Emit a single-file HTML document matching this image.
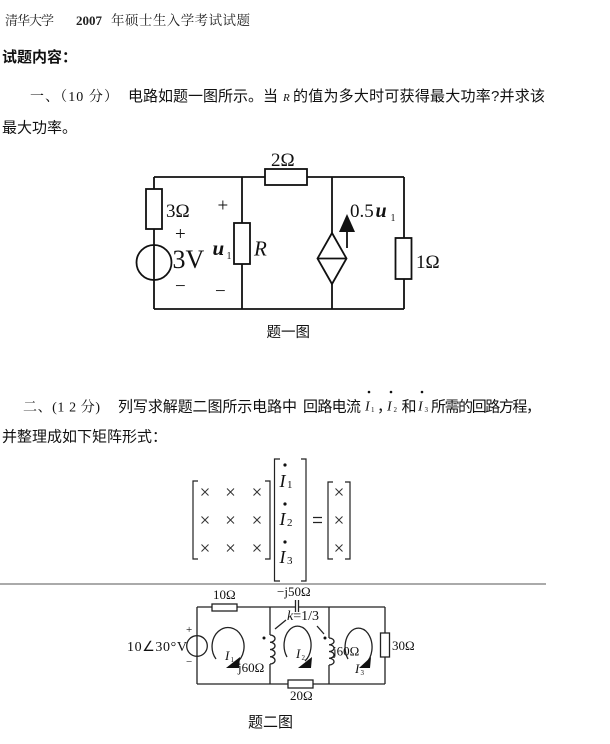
<!DOCTYPE html>
<html><head><meta charset="utf-8"><style>
html,body{margin:0;padding:0;background:#fff;}
svg{display:block;}
.s{font-family:"Liberation Sans","Noto Sans CJK SC",sans-serif;}
.sf{font-family:"Liberation Serif","Noto Serif CJK SC",serif;}
.t{font-family:"Liberation Serif",serif;}
</style></head><body>
<svg width="610" height="744" viewBox="0 0 610 744" xmlns="http://www.w3.org/2000/svg">
<rect x="0" y="0" width="610" height="744" fill="#fff"/>

<!-- Header -->
<text class="sf" x="5" y="25" font-size="13" textLength="49" fill="#222">清华大学</text>
<text class="t" x="76" y="25" font-size="13" font-weight="bold" fill="#222">2007</text>
<text class="sf" x="111" y="25" font-size="13.5" textLength="139" fill="#222">年硕士生入学考试试题</text>

<text class="s" x="2" y="62" font-size="15" font-weight="bold" fill="#111">试题内容：</text>

<!-- Question 1 -->
<text class="sf" x="30" y="101" font-size="14" textLength="88" fill="#111">一、（10 分）</text>
<text class="s" x="128" y="101" font-size="15" textLength="150" fill="#111">电路如题一图所示。当</text>
<text class="t" x="283" y="101" font-size="11" font-style="italic" fill="#111">R</text>
<text class="s" x="293" y="101" font-size="15" textLength="252" fill="#111">的值为多大时可获得最大功率?并求该</text>
<text class="s" x="2" y="132.5" font-size="15" fill="#111">最大功率。</text>

<!-- Circuit 1 -->
<g stroke="#111" stroke-width="1.8" fill="none">
  <path d="M154 177 H404 M154 309 H404 M154 177 V309 M242 177 V309 M332 177 V233 M332 284 V309 M404 177 V309"/>
  <rect x="265" y="169" width="42" height="16" fill="#fff"/>
  <rect x="146" y="189" width="16" height="40" fill="#fff"/>
  <circle cx="154" cy="262.5" r="17.5"/>
  <rect x="234" y="223" width="16" height="41" fill="#fff"/>
  <path d="M332 233 L346.5 258.5 L332 284 L317.5 258.5 Z" fill="#fff"/>
  <path d="M317.5 258.5 H346.5"/>
  <rect x="395.5" y="238" width="16" height="41" fill="#fff"/>
  <path d="M347 248 V230"/>
</g>
<polygon points="339,232 355,232 347,214" fill="#111"/>
<g class="t" fill="#111">
  <text x="271" y="166" font-size="19">2Ω</text>
  <text x="166" y="217" font-size="19">3Ω</text>
  <text x="175" y="240" font-size="19">+</text>
  <text x="172.5" y="268" font-size="26">3V</text>
  <text x="175" y="292" font-size="19">−</text>
  <text x="217.5" y="211.5" font-size="19">+</text>
  <text x="215" y="297" font-size="19">−</text>
  <text x="212.5" y="255" font-size="21" font-style="italic" font-weight="bold">u</text>
  <text x="226.5" y="259" font-size="10">1</text>
  <text x="254" y="255.5" font-size="21" font-style="italic">R</text>
  <text x="350" y="217" font-size="19">0.5</text>
  <text x="375.5" y="217" font-size="20" font-style="italic" font-weight="bold">u</text>
  <text x="390.5" y="221" font-size="10">1</text>
  <text x="416" y="268" font-size="19">1Ω</text>
</g>
<text class="s" x="266.5" y="337" font-size="14.5" fill="#111">题一图</text>

<!-- Question 2 -->
<text class="sf" x="23" y="411.5" font-size="14" textLength="77" fill="#111">二、(1 2 分)</text>
<text class="s" x="118" y="411.5" font-size="15" textLength="179" fill="#111">列写求解题二图所示电路中</text>
<text class="s" x="303" y="411.5" font-size="15" textLength="58" fill="#111">回路电流</text>
<g class="t" fill="#111">
  <text x="365" y="410.5" font-size="14" font-style="italic">I</text>
  <text x="371" y="412" font-size="7">1</text>
  <text x="387" y="410.5" font-size="14" font-style="italic">I</text>
  <text x="393.5" y="412" font-size="7">2</text>
  <text x="418" y="410.5" font-size="14" font-style="italic">I</text>
  <text x="424.5" y="412" font-size="7">3</text>
  <circle cx="369" cy="392" r="1.3"/>
  <circle cx="391" cy="392" r="1.3"/>
  <circle cx="422" cy="392" r="1.3"/>
</g>
<text class="s" x="377" y="411.5" font-size="15" fill="#111">，</text>
<text class="s" x="401.5" y="411.5" font-size="15" fill="#111">和</text>
<text class="s" x="431" y="411.5" font-size="15" textLength="110" fill="#111">所需的回路方程，</text>
<text class="s" x="2" y="441.5" font-size="15" fill="#111">并整理成如下矩阵形式：</text>

<!-- Matrix -->
<g stroke="#222" stroke-width="1.2" fill="none">
  <path d="M198 481 H193 V559 H198"/>
  <path d="M265 481 H270 V559 H265"/>
  <path d="M280 459 H274.5 V581 H280"/>
  <path d="M301 459 H306 V581 H301"/>
  <path d="M333 482 H328 V559 H333"/>
  <path d="M345 482 H350 V559 H345"/>
  <path d="M313 517.5 H322 M313 522.5 H322"/>
</g>
<g stroke="#333" stroke-width="1">
  <path d="M201.5 488.5 l7 7 m0 -7 l-7 7 M227 488.5 l7 7 m0 -7 l-7 7 M253.5 488.5 l7 7 m0 -7 l-7 7"/>
  <path d="M201.5 516.5 l7 7 m0 -7 l-7 7 M227 516.5 l7 7 m0 -7 l-7 7 M253.5 516.5 l7 7 m0 -7 l-7 7"/>
  <path d="M201.5 544.5 l7 7 m0 -7 l-7 7 M227 544.5 l7 7 m0 -7 l-7 7 M253.5 544.5 l7 7 m0 -7 l-7 7"/>
  <path d="M335.5 488.5 l7 7 m0 -7 l-7 7 M335.5 516.5 l7 7 m0 -7 l-7 7 M335.5 544.5 l7 7 m0 -7 l-7 7"/>
</g>
<g class="t" fill="#111">
  <text x="279.5" y="487" font-size="18" font-style="italic">I</text>
  <text x="287" y="488" font-size="11">1</text>
  <circle cx="285" cy="465" r="1.6"/>
  <text x="279.5" y="525" font-size="18" font-style="italic">I</text>
  <text x="287" y="526" font-size="11">2</text>
  <circle cx="285" cy="504" r="1.6"/>
  <text x="279.5" y="563" font-size="18" font-style="italic">I</text>
  <text x="287" y="564" font-size="11">3</text>
  <circle cx="285" cy="542" r="1.6"/>
</g>

<!-- separator -->
<path d="M0 584 H546" stroke="#555" stroke-width="1"/>

<!-- Circuit 2 -->
<g stroke="#222" stroke-width="1.3" fill="none">
  <path d="M197 607 H295.5 M298.5 607 H385 M197 684 H385 M197 607 V684 M385 607 V684 M270 607 V635 M270 664 V684 M329 607 V638 M329 665 V684"/>
  <path d="M295.5 600 V612 M298.5 600 V612"/>
  <rect x="212" y="604" width="25" height="7" fill="#fff"/>
  <circle cx="197" cy="646" r="10.3"/>
  <rect x="380.5" y="633" width="9" height="24" fill="#fff"/>
  <rect x="288" y="680" width="25" height="8" fill="#fff"/>
  <path d="M270 635 a5 3.625 0 0 1 0 7.25 a5 3.625 0 0 1 0 7.25 a5 3.625 0 0 1 0 7.25 a5 3.625 0 0 1 0 7.25"/>
  <path d="M329 638 a5 3.375 0 0 1 0 6.75 a5 3.375 0 0 1 0 6.75 a5 3.375 0 0 1 0 6.75 a5 3.375 0 0 1 0 6.75"/>
  <path d="M275 629 L286 620 M317 626 L324 634"/>
  <path d="M216 659 A16 19 0 1 1 236 663"/>
  <path d="M287 657 A13.5 19 0 1 1 305 661"/>
  <path d="M348 659 A13.5 19 0 1 1 366 663"/>
</g>
<g fill="#111">
  <circle cx="264" cy="638" r="1.5"/>
  <circle cx="325" cy="638" r="1.5"/>
  <polygon points="226,668 240,657 239,668"/>
  <polygon points="298,668 312,657 311,668"/>
  <polygon points="359,668 371,657 370,668"/>
</g>
<g class="t" fill="#111">
  <text x="213" y="599" font-size="13">10Ω</text>
  <text x="277" y="596" font-size="13">−j50Ω</text>
  <text x="287" y="620" font-size="14"><tspan font-style="italic">k</tspan>=1/3</text>
  <text x="127" y="651" font-size="14" textLength="60">10∠30°V</text>
  <text x="186" y="633" font-size="11">+</text>
  <text x="186" y="665" font-size="11">−</text>
  <text x="238" y="672" font-size="13">j60Ω</text>
  <text x="333" y="655.5" font-size="13">j60Ω</text>
  <text x="392" y="650" font-size="13">30Ω</text>
  <text x="290" y="700" font-size="13">20Ω</text>
  <text x="225" y="660" font-size="13" font-style="italic">I</text>
  <text x="230.5" y="662" font-size="7">1</text>
  <text x="296" y="658" font-size="13" font-style="italic">I</text>
  <text x="301.5" y="660" font-size="7">2</text>
  <text x="355" y="673" font-size="13" font-style="italic">I</text>
  <text x="360.5" y="675" font-size="7">3</text>
</g>
<text class="s" x="248" y="727" font-size="15" fill="#111">题二图</text>
</svg>
</body></html>
